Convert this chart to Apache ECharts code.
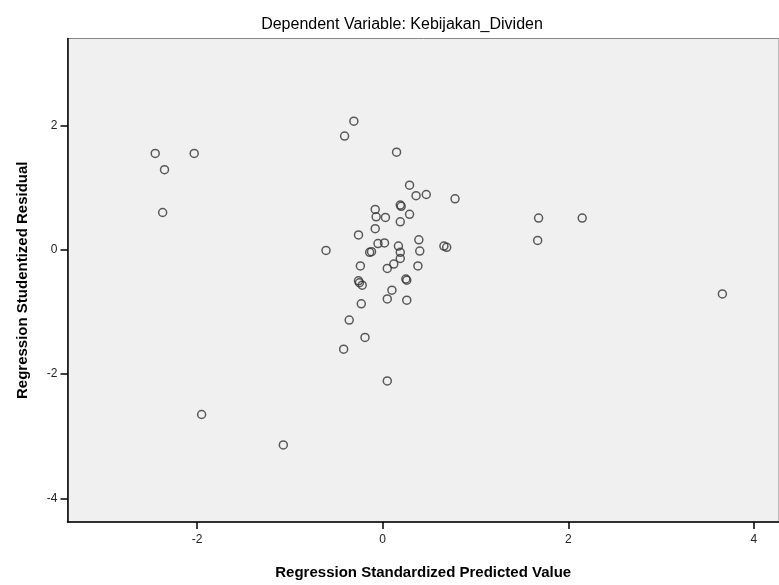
<!DOCTYPE html>
<html><head><meta charset="utf-8">
<script src="https://cdn.jsdelivr.net/npm/echarts@6/dist/echarts.min.js"></script>
<style>html,body{margin:0;padding:0;background:#fff}#c{width:779px;height:585px}</style>
</head><body><div id="c"></div>
<script>
var titleText = 'Dependent Variable: Kebijakan_Dividen';
var xName = 'Regression Standardized Predicted Value';
var yName = 'Regression Studentized Residual';
var xTicks = [-2, 0, 2, 4];
var yTicks = [-4, -2, 0, 2];
var predicted = [-2.45,-2.35,-2.03,-2.37,-1.95,-1.07,-0.31,-0.41,0.15,0.29,0.36,0.47,0.78,-0.08,0.19,0.20,-0.07,0.03,0.29,0.19,-0.08,-0.26,-0.61,-0.14,-0.12,-0.05,0.02,0.17,0.19,0.19,0.39,0.40,0.66,0.69,-0.24,0.05,0.12,0.38,-0.26,-0.25,-0.22,0.25,0.26,0.10,0.05,-0.23,0.26,-0.36,-0.19,-0.42,0.05,1.68,2.15,1.67,3.66];
var residual = [1.55,1.29,1.55,0.60,-2.65,-3.14,2.07,1.83,1.57,1.04,0.87,0.89,0.82,0.65,0.72,0.70,0.53,0.52,0.57,0.45,0.34,0.24,-0.01,-0.04,-0.03,0.10,0.11,0.06,-0.04,-0.14,0.16,-0.02,0.06,0.04,-0.26,-0.30,-0.23,-0.26,-0.50,-0.53,-0.57,-0.47,-0.49,-0.65,-0.79,-0.87,-0.81,-1.13,-1.41,-1.60,-2.11,0.51,0.51,0.15,-0.71];
var pts = predicted.map(function(v,i){return [v, residual[i]];});
var chart = echarts.init(document.getElementById('c'), null, {renderer:'canvas'});
var fam = '"Liberation Sans", Arial, sans-serif';
chart.setOption({
  animation:false,
  backgroundColor:'#ffffff',
  title:{text:titleText, left:397, top:12, textAlign:'center',
    textStyle:{fontFamily:fam, fontSize:16, fontWeight:'normal', color:'#000'}},
  grid:{left:67.5, right:-3, top:38.5, bottom:61, show:true, backgroundColor:'#f0f0f0', borderColor:'#888', borderWidth:1},
  xAxis:{type:'value', min:-3.395, max:4.27, name:xName, nameLocation:'middle', nameGap:43,
    nameTextStyle:{fontFamily:fam, fontSize:15, fontWeight:'bold', color:'#000'},
    splitLine:{show:false},
    axisLine:{show:true, onZero:false, lineStyle:{color:'#000', width:1.5}},
    axisTick:{show:true, inside:false, length:7, customValues:xTicks, lineStyle:{color:'#000', width:1.5}},
    axisLabel:{customValues:xTicks, margin:12, fontFamily:fam, fontSize:12, color:'#222', formatter:function(v){return String(v);}}},
  yAxis:{type:'value', min:-4.38, max:3.40, name:yName, nameLocation:'middle', nameGap:37,
    nameTextStyle:{fontFamily:fam, fontSize:15, fontWeight:'bold', color:'#000'},
    splitLine:{show:false},
    axisLine:{show:true, onZero:false, lineStyle:{color:'#000', width:1.5}},
    axisTick:{show:true, inside:false, length:7, customValues:yTicks, lineStyle:{color:'#000', width:1.5}},
    axisLabel:{customValues:yTicks, margin:10, fontFamily:fam, fontSize:12, color:'#222', formatter:function(v){return String(v);}}},
  series:[{type:'scatter', data:pts, symbol:'circle', symbolSize:8,
    itemStyle:{color:'rgba(0,0,0,0)', borderColor:'#333', borderWidth:1.5}}]
});
</script></body></html>
